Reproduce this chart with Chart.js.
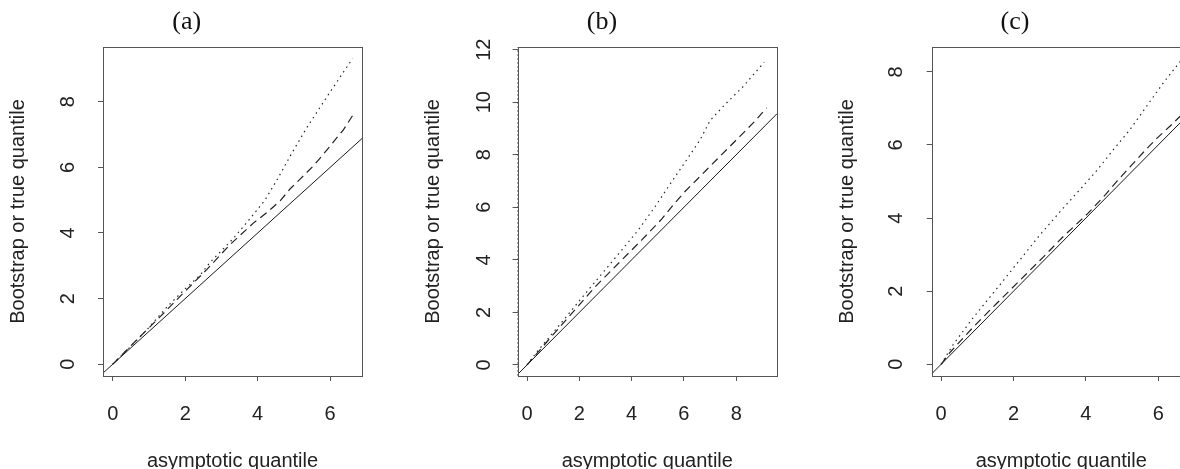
<!DOCTYPE html>
<html>
<head>
<meta charset="utf-8">
<script src="https://cdn.jsdelivr.net/npm/chart.js@4/dist/chart.umd.min.js"></script>
<style>
  html, body { margin: 0; padding: 0; background: #fff; }
  body { width: 1180px; height: 469px; overflow: hidden; position: relative; }
  canvas { position: absolute; top: 0; }
</style>
</head>
<body>
<canvas id="ca" width="373" height="469" style="left:0px"></canvas>
<canvas id="cb" width="370" height="469" style="left:416.7px"></canvas>
<canvas id="cc" width="370" height="469" style="left:830px"></canvas>
<script>
// ---------- data ----------
const panelTitles = ["(a)", "(b)", "(c)"];
const xAxisTitle = "asymptotic quantile";
const yAxisTitle = "Bootstrap or true quantile";

// panel (a)
const rangeXA = [-0.27, 6.88];
const rangeYA = [-0.36, 9.67];
const ticksXA = [0, 2, 4, 6];
const ticksYA = [0, 2, 4, 6, 8];
const solidAX = [-0.27, 6.88];
const solidAY = [-0.27, 6.88];
const dottedAX = [0, 0.5, 1.0, 1.5, 2.0, 2.4, 2.7, 3.3, 3.8, 4.2, 4.55, 4.9, 5.35, 6.0, 6.62];
const dottedAY = [0, 0.55, 1.12, 1.75, 2.3, 2.7, 3.12, 3.8, 4.45, 5.0, 5.65, 6.35, 7.2, 8.3, 9.32];
const dashedAX = [0, 0.66, 1.31, 1.95, 2.6, 3.24, 3.88, 4.25, 4.62, 4.9, 5.17, 5.54, 5.82, 6.37, 6.62];
const dashedAY = [0, 0.74, 1.45, 2.17, 2.89, 3.65, 4.3, 4.62, 4.98, 5.35, 5.64, 6.05, 6.41, 7.15, 7.58];
const edgeAX = [-0.27, -0.27];
const edgeAY = [-0.36, 8.0];

// panel (b)
const rangeXB = [-0.36, 9.56];
const rangeYB = [-0.42, 12.1];
const ticksXB = [0, 2, 4, 6, 8];
const ticksYB = [0, 2, 4, 6, 8, 10, 12];
const solidBX = [-0.36, 9.56];
const solidBY = [-0.36, 9.56];
const dottedBX = [0, 0.44, 1.08, 1.72, 2.35, 2.99, 3.63, 4.26, 4.9, 5.55, 6.11, 6.62, 7.0, 7.5, 8.27, 9.07];
const dottedBY = [0, 0.57, 1.33, 2.1, 2.86, 3.62, 4.38, 5.14, 6.03, 7.0, 7.81, 8.57, 9.3, 9.84, 10.6, 11.52];
const dashedBX = [0, 0.82, 1.72, 2.61, 3.5, 4.39, 5.15, 5.6, 6.04, 6.49, 6.87, 7.25, 7.76, 8.14, 8.65, 9.16];
const dashedBY = [0, 0.95, 1.97, 2.98, 3.87, 4.76, 5.55, 6.1, 6.6, 7.05, 7.43, 7.81, 8.32, 8.7, 9.21, 9.78];
const edgeBX = [-0.36, -0.36];
const edgeBY = [-0.42, 12.1];

// panel (c)
const rangeXC = [-0.26, 6.9];
const rangeYC = [-0.32, 8.68];
const ticksXC = [0, 2, 4, 6];
const ticksYC = [0, 2, 4, 6, 8];
const solidCX = [-0.26, 6.9];
const solidCY = [-0.26, 6.9];
const dottedCX = [0, 0.34, 0.89, 1.45, 2.09, 2.74, 3.38, 3.9, 4.3, 4.76, 5.22, 5.68, 6.14, 6.62];
const dottedCY = [0, 0.55, 1.28, 1.96, 2.75, 3.55, 4.28, 4.85, 5.3, 5.87, 6.42, 7.06, 7.7, 8.3];
const dashedCX = [0, 0.25, 0.89, 1.54, 2.18, 2.83, 3.38, 4.05, 4.55, 4.85, 5.22, 5.59, 5.96, 6.33, 6.62];
const dashedCY = [0, 0.33, 1.02, 1.67, 2.3, 2.94, 3.5, 4.12, 4.65, 5.0, 5.4, 5.8, 6.18, 6.52, 6.8];

// ---------- helpers ----------
function pts(xs, ys) { return xs.map((x, i) => ({ x: x, y: ys[i] })); }

const framePlugin = {
  id: 'frame',
  afterDatasetsDraw(chart) {
    const a = chart.chartArea, ctx = chart.ctx;
    ctx.save();
    ctx.strokeStyle = '#555';
    ctx.lineWidth = 1;
    ctx.strokeRect(Math.round(a.left) + 0.5, Math.round(a.top) + 0.5,
                   Math.round(a.right - a.left), Math.round(a.bottom - a.top));
    ctx.restore();
  }
};

const sansFont = "'Liberation Sans', Arial, Helvetica, sans-serif";
const serifFont = "'Liberation Serif', 'Times New Roman', serif";

function makePanel(id, cfg) {
  const datasets = [
    { label: 'true', data: pts(cfg.solidX, cfg.solidY), borderColor: '#1a1a1a', borderWidth: 1 },
    { label: 'dashed', data: pts(cfg.dashedX, cfg.dashedY), borderColor: '#222', borderWidth: 1.2, borderDash: [8, 5] },
    { label: 'dotted', data: pts(cfg.dottedX, cfg.dottedY), borderColor: '#2a2a2a', borderWidth: 1.2, borderDash: [1.5, 4] }
  ];
  if (cfg.edgeX) {
    datasets.push({ label: 'edge', data: pts(cfg.edgeX, cfg.edgeY), borderColor: '#333', borderWidth: 1.5, borderDash: [2, 2] });
  }
  datasets.forEach(d => { d.showLine = true; d.pointRadius = 0; d.fill = false; d.tension = 0; });

  new Chart(document.getElementById(id), {
    type: 'scatter',
    data: { datasets: datasets },
    options: {
      responsive: false,
      animation: false,
      devicePixelRatio: 1,
      layout: { padding: { left: cfg.padLeft, top: 0, right: cfg.padRight, bottom: 0 } },
      plugins: {
        legend: { display: false },
        tooltip: { enabled: false },
        title: {
          display: true,
          text: cfg.title,
          color: '#111',
          font: { family: serifFont, size: 26, weight: 'normal', lineHeight: 1.2 },
          padding: { top: 7, bottom: 8.8 }
        }
      },
      scales: {
        x: {
          type: 'linear',
          position: 'bottom',
          min: cfg.rangeX[0], max: cfg.rangeX[1],
          afterBuildTicks: s => { s.ticks = cfg.ticksX.map(v => ({ value: v })); },
          afterFit: s => { s.height = 93; },
          grid: { display: true, drawOnChartArea: false, drawTicks: true, tickLength: 5, tickColor: '#555', tickWidth: 1 },
          border: { display: false },
          ticks: { color: '#222', padding: 21.5, maxRotation: 0, minRotation: 0,
                    font: { family: sansFont, size: 20 } },
          title: { display: true, text: xAxisTitle, color: '#222',
                   font: { family: sansFont, size: 20 }, padding: { top: 0, bottom: -4 } }
        },
        y: {
          type: 'linear',
          position: 'left',
          min: cfg.rangeY[0], max: cfg.rangeY[1],
          afterBuildTicks: s => { s.ticks = cfg.ticksY.map(v => ({ value: v })); },
          afterFit: s => { s.width = cfg.yWidth; },
          grid: { display: true, drawOnChartArea: false, drawTicks: true, tickLength: 5, tickColor: '#555', tickWidth: 1 },
          border: { display: false },
          ticks: { color: '#222', padding: cfg.yTickPad, minRotation: 90, maxRotation: 90, crossAlign: 'center',
                   font: { family: sansFont, size: 20 } },
          title: { display: true, text: yAxisTitle, color: '#222',
                   font: { family: sansFont, size: 20 }, padding: { top: cfg.yTitlePad, bottom: 0 } }
        }
      }
    },
    plugins: [framePlugin]
  });
}

makePanel('ca', {
  title: panelTitles[0], rangeX: rangeXA, rangeY: rangeYA, ticksX: ticksXA, ticksY: ticksYA,
  solidX: solidAX, solidY: solidAY, dottedX: dottedAX, dottedY: dottedAY, dashedX: dashedAX, dashedY: dashedAY,
  edgeX: edgeAX, edgeY: edgeAY,
  padLeft: 11.4, yWidth: 91.6, padRight: 11, yTickPad: 23.6, yTitlePad: -4.9
});
makePanel('cb', {
  title: panelTitles[1], rangeX: rangeXB, rangeY: rangeYB, ticksX: ticksXB, ticksY: ticksYB,
  solidX: solidBX, solidY: solidBY, dottedX: dottedBX, dottedY: dottedBY, dashedX: dashedBX, dashedY: dashedBY,
  edgeX: edgeBX, edgeY: edgeBY,
  padLeft: 10, yWidth: 90.6, padRight: 10, yTickPad: 17.4, yTitlePad: -5.2
});
makePanel('cc', {
  title: panelTitles[2], rangeX: rangeXC, rangeY: rangeYC, ticksX: ticksXC, ticksY: ticksYC,
  solidX: solidCX, solidY: solidCY, dottedX: dottedCX, dottedY: dottedCY, dashedX: dashedCX, dashedY: dashedCY,
  padLeft: 9.2, yWidth: 92.5, padRight: 9.2, yTickPad: 25, yTitlePad: -3.4
});
</script>
</body>
</html>
